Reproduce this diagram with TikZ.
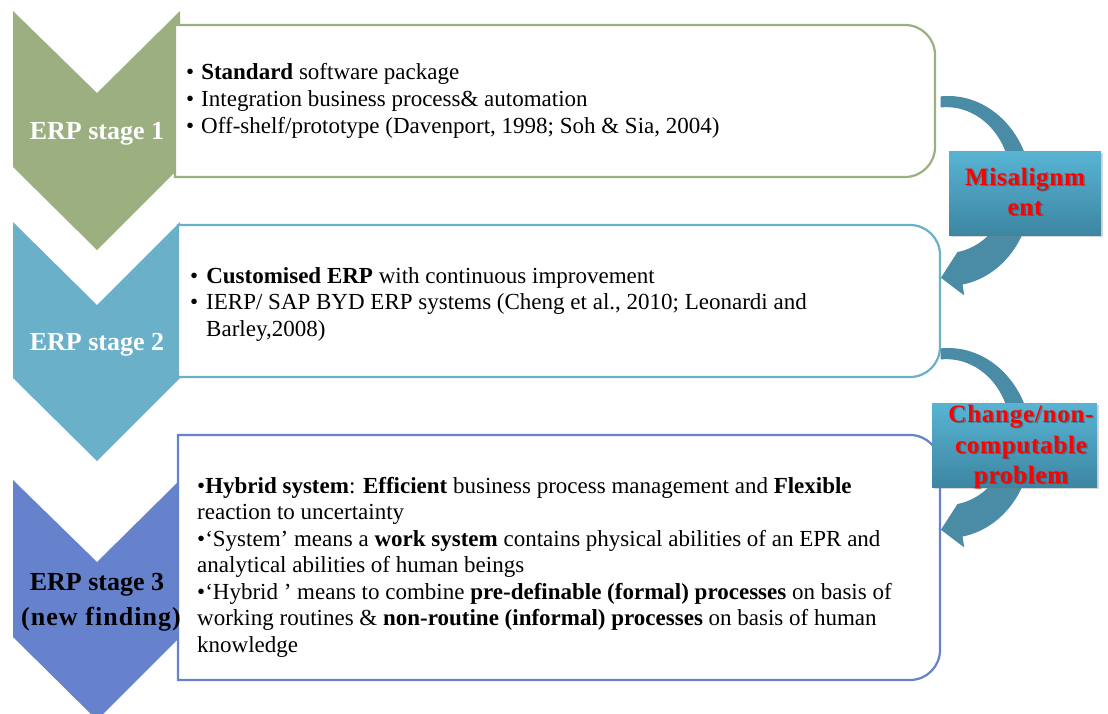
\documentclass[tikz,border=0pt]{standalone}
\usepackage{fontspec}
\setmainfont{Liberation Serif}
\newfontfamily\issuefont[LetterSpace=3]{Liberation Serif}
\newfontfamily\widefont[LetterSpace=4]{Liberation Serif}
\usetikzlibrary{calc,shadows}

\definecolor{stgA}{HTML}{9BAF80}
\definecolor{stgB}{HTML}{6AB0C9}
\definecolor{stgC}{HTML}{6782CC}
\definecolor{arw}{HTML}{4A8BA5}
\definecolor{lblTop}{HTML}{58B4D4}
\definecolor{lblBot}{HTML}{3D86A2}

\tikzset{
  chevron/.style={fill=#1, draw=none},
  panel/.style={draw=#1, line width=2.2pt, fill=white},
  bodyline/.style={anchor=base west, inner sep=0pt, font=\fontsize{23}{27}\selectfont},
  stagelbl/.style={anchor=base, inner sep=0pt, font=\fontsize{26}{35}\selectfont\bfseries},
  curlarrow/.style={fill=arw, draw=none},
  issue/.style={draw=none, top color=lblTop, bottom color=lblBot, inner sep=0pt,
    drop shadow={opacity=0.3, shadow xshift=2pt, shadow yshift=-2pt}},
  issuetext/.style={anchor=base, inner sep=0pt, text=red, font=\issuefont\bfseries\fontsize{25}{30}\selectfont},
  issueshade/.style={issuetext, text=black, opacity=0.25}
}

\begin{document}
\begin{tikzpicture}[x=1pt, y=-1pt]
\clip (0,0) rectangle (1108,713);
\fill[white] (0,0) rectangle (1108,713);

% stage chevrons
\fill[chevron=stgA] (13,11) -- (97,93) -- (180,11) -- (180,167) -- (97,250) -- (13,167) -- cycle;
\fill[chevron=stgB] (13,222) -- (97,305) -- (180,222) -- (180,378) -- (97,461) -- (13,378) -- cycle;
\fill[chevron=stgC] (13,480) -- (97,562) -- (180,480) -- (180,637) -- (97,720) -- (13,637) -- cycle;

% content panels, rounded on the right side only
\draw[panel=stgA] (175,25) -- (905,25) .. controls (921.6,25) and (935,38.4) .. (935,55)
  -- (935,147) .. controls (935,163.6) and (921.6,177) .. (905,177) -- (175,177) -- cycle;
\draw[panel=stgB] (178,225) -- (910,225) .. controls (926.6,225) and (940,238.4) .. (940,255)
  -- (940,347) .. controls (940,363.6) and (926.6,377) .. (910,377) -- (178,377) -- cycle;
\draw[panel=stgC] (178,435) -- (910,435) .. controls (926.6,435) and (940,448.4) .. (940,465)
  -- (940,650) .. controls (940,666.6) and (926.6,680) .. (910,680) -- (178,680) -- cycle;

% stage labels
\node[stagelbl, text=white] (s1) at (97,139) {ERP stage 1};
\node[stagelbl, text=white] (s2) at (97,350) {ERP stage 2};
\node[stagelbl, text=black] (s3a) at (97,590) {ERP stage 3};
\node[stagelbl, text=black, font=\widefont\fontsize{26}{35}\selectfont\bfseries] (s3b) at (101,625) {(new finding)};

% panel 1 text
\node[bodyline] (a1) at (186,79)  {•\hspace{7pt}\textbf{Standard} software package};
\node[bodyline] (a2) at (186,106) {•\hspace{7pt}Integration business process\& automation};
\node[bodyline] (a3) at (186,133) {•\hspace{7pt}Off-shelf/prototype (Davenport, 1998; Soh \& Sia, 2004)};

% panel 2 text
\node[bodyline] (b1) at (190,283)   {•\hspace{8pt}\textbf{Customised ERP} with continuous improvement};
\node[bodyline] (b2) at (190,309.5) {•\hspace{8pt}IERP/ SAP BYD ERP systems (Cheng et al., 2010; Leonardi and};
\node[bodyline] (b3) at (206,336)   {Barley,2008)};

% panel 3 text
\node[bodyline] (c1) at (197,493)   {•\textbf{Hybrid system}: \textbf{Efficient} business process management and \textbf{Flexible}};
\node[bodyline] (c2) at (197,519.5) {reaction to uncertainty};
\node[bodyline] (c3) at (197,546)   {•‘System’ means a \textbf{work system} contains physical abilities of an EPR and};
\node[bodyline] (c4) at (197,572.5) {analytical abilities of human beings};
\node[bodyline] (c5) at (197,599)   {•‘Hybrid ’ means to combine \textbf{pre-definable (formal) processes} on basis of};
\node[bodyline] (c6) at (197,625.5) {working routines \& \textbf{non-routine (informal) processes} on basis of human};
\node[bodyline] (c7) at (197,652)   {knowledge};

% curved transition arrows
\begin{scope}[shift={(948,191)}, yscale=-1, xscale=0.88]
  \fill[curlarrow] (95:95) arc[start angle=95, end angle=-80, radius=95] -- (-80:106)
    -- ($(-80:84)+(-170:23)$) -- (-80:62) arc[start angle=-80, end angle=95, radius=73] -- cycle;
\end{scope}
\begin{scope}[shift={(948,443)}, yscale=-1, xscale=0.88]
  \fill[curlarrow] (95:95) arc[start angle=95, end angle=-80, radius=95] -- (-80:106)
    -- ($(-80:84)+(-170:23)$) -- (-80:62) arc[start angle=-80, end angle=95, radius=73] -- cycle;
\end{scope}

% issue labels
\node[issue, minimum width=152pt, minimum height=84pt] (mis) at (1025,193) {};
\node[issueshade] at (1026.5,186.5) {Misalignm};
\node[issueshade] at (1026.5,216.5) {ent};
\node[issuetext] (mis1) at (1025,185) {Misalignm};
\node[issuetext] (mis2) at (1025,215) {ent};

\node[issue, minimum width=165pt, minimum height=84pt] (chg) at (1014.5,445) {};
\node[issueshade] at (1022.5,423.5) {Change/non-};
\node[issueshade] at (1022.5,454.5) {computable};
\node[issueshade] at (1022.5,484.5) {problem};
\node[issuetext] (chg1) at (1021,422) {Change/non-};
\node[issuetext] (chg2) at (1021,453) {computable};
\node[issuetext] (chg3) at (1021,483) {problem};
\end{tikzpicture}
\end{document}
